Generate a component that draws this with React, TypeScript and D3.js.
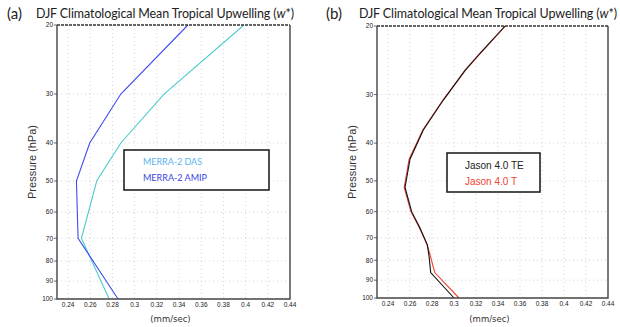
import React from "react";
import * as d3 from "d3";

// ---- data ----
const pressureTicks = [20, 30, 40, 50, 60, 70, 80, 90, 100];
const xTicks = [0.24, 0.26, 0.28, 0.3, 0.32, 0.34, 0.36, 0.38, 0.4, 0.42, 0.44];

const merraLevels = [20, 30, 40, 50, 70, 100];
const merraDAS = [0.3985, 0.3265, 0.2875, 0.2658, 0.252, 0.277];
const merraAMIP = [0.348, 0.2875, 0.2595, 0.2475, 0.249, 0.285];

const jasonLevels = [20, 23.5, 26, 31, 37, 44, 52, 60, 66, 73, 78, 86, 100];
const jasonTE = [0.3464, 0.3236, 0.31, 0.2903, 0.2721, 0.26, 0.2555, 0.2615, 0.269, 0.2757, 0.2773, 0.2788, 0.3];
const jasonT = [0.3468, 0.3240, 0.3103, 0.2900, 0.2716, 0.2592, 0.2547, 0.2608, 0.2685, 0.2757, 0.2785, 0.2825, 0.3045];

const panels = [
  {
    tag: "(a)",
    box: { x0: 57, x1: 290, y0: 25, y1: 299 },
    series: [
      { name: "MERRA-2 DAS", levels: merraLevels, values: merraDAS, color: "#4ccccc", text: "#5ab2ee", len: 59 },
      { name: "MERRA-2 AMIP", levels: merraLevels, values: merraAMIP, color: "#3f4cf0", text: "#3a44e6", len: 64 },
    ],
    legend: { x: 124, y: 150, w: 145, h: 40, font: "Lato, 'Open Sans', sans-serif", tx: 143, size: 9.5 },
    titleX: 36,
    tagX: 7,
  },
  {
    tag: "(b)",
    box: { x0: 377, x1: 608, y0: 26, y1: 298 },
    series: [
      { name: "Jason 4.0 T", levels: jasonLevels, values: jasonT, color: "#ee4433", text: "#ee4433", len: 0 },
      { name: "Jason 4.0 TE", levels: jasonLevels, values: jasonTE, color: "#111111", text: "#222222", len: 0 },
    ],
    legend: { x: 447, y: 153, w: 93, h: 39, font: "'Liberation Sans', Arial, sans-serif", tx: 465, size: 10 },
    titleX: 359,
    tagX: 326,
  },
];

function Panel({ p }: { p: (typeof panels)[number] }) {
  const { box } = p;
  const x = d3.scaleLinear().domain([0.23, 0.44]).range([box.x0, box.x1]);
  const y = d3.scaleLog().domain([20, 100]).range([box.y0, box.y1]);
  const line = (levels: number[], values: number[]) =>
    d3
      .line<number>()
      .x((_, i) => x(values[i]))
      .y((_, i) => y(levels[i]))(levels) || "";
  const midY = (box.y0 + box.y1) / 2;
  const midX = (box.x0 + box.x1) / 2;
  const legendOrder = p.tag === "(b)" ? [p.series[1], p.series[0]] : p.series;
  return (
    <g>
      {/* title */}
      <text x={p.tagX} y={19} fontSize={15} fontFamily="Lato, 'Open Sans', sans-serif" fill="#222">
        {p.tag}
      </text>
      <text
        x={p.titleX}
        y={18}
        fontSize={12.5}
        fontFamily="Lato, 'Open Sans', sans-serif"
        fill="#222"
        textLength={258}
        lengthAdjust="spacing"
      >
        DJF Climatological Mean Tropical Upwelling (<tspan fontStyle="italic">w</tspan>*)
      </text>
      {/* grid */}
      {xTicks.map((t) => (
        <line key={"gx" + t} x1={x(t)} x2={x(t)} y1={box.y0} y2={box.y1} stroke="#c8c8c8" strokeWidth={0.8} strokeDasharray="1,3" />
      ))}
      {pressureTicks.slice(1, -1).map((t) => (
        <line key={"gy" + t} x1={box.x0} x2={box.x1} y1={y(t)} y2={y(t)} stroke="#c8c8c8" strokeWidth={0.8} strokeDasharray="1,3" />
      ))}
      {/* series */}
      {p.series.map((s) => (
        <path key={s.name} d={line(s.levels, s.values)} fill="none" stroke={s.color} strokeWidth={1.1} />
      ))}
      {/* frame */}
      <line x1={box.x0} x2={box.x1} y1={box.y0} y2={box.y0} stroke="#333" strokeWidth={1.4} strokeDasharray="3,1" />
      <path d={`M${box.x0},${box.y0}V${box.y1}H${box.x1}V${box.y0}`} fill="none" stroke="#444" strokeWidth={1.4} />
      {/* y ticks */}
      {pressureTicks.map((t) => (
        <g key={"yt" + t}>
          <line x1={box.x0 - 3} x2={box.x0} y1={y(t)} y2={y(t)} stroke="#444" strokeWidth={0.8} />
          <text x={box.x0 - 4} y={y(t)} dy="0.35em" textAnchor="end" fontSize={6.5} fontFamily="'Liberation Sans', Arial, sans-serif" fill="#222">
            {t}
          </text>
        </g>
      ))}
      {/* x ticks */}
      {xTicks.map((t) => (
        <text key={"xt" + t} x={x(t)} y={box.y1 + 8} textAnchor="middle" fontSize={6.5} fontFamily="'Liberation Sans', Arial, sans-serif" fill="#222">
          {t}
        </text>
      ))}
      <text x={midX - 3} y={322} textAnchor="middle" fontSize={8.5} fontFamily="'DejaVu Sans', sans-serif" fill="#333">
        (mm/sec)
      </text>
      <text
        transform={`translate(${box.x0 - 21},${midY}) rotate(-90)`}
        textAnchor="middle"
        fontSize={11}
        fontFamily="'Liberation Sans', Arial, sans-serif"
        fill="#333"
      >
        Pressure (hPa)
      </text>
      {/* legend */}
      <rect x={p.legend.x} y={p.legend.y} width={p.legend.w} height={p.legend.h} fill="#fff" stroke="#222" strokeWidth={1.6} />
      {legendOrder.map((s, i) => (
        <text
          key={"lg" + s.name}
          x={p.legend.tx}
          y={p.legend.y + 12 + i * 16}
          dy="0.35em"
          fontSize={p.legend.size}
          fontFamily={p.legend.font}
          fill={s.text}
          {...(s.len ? { textLength: s.len, lengthAdjust: "spacingAndGlyphs" } : {})}
        >
          {s.name}
        </text>
      ))}
    </g>
  );
}

export default function App() {
  return (
    <svg width={620} height={327} style={{ position: "absolute", left: 0, top: 0, background: "#fff" }}>
      <rect width={620} height={327} fill="#fff" />
      {panels.map((p) => (
        <Panel key={p.tag} p={p} />
      ))}
    </svg>
  );
}
